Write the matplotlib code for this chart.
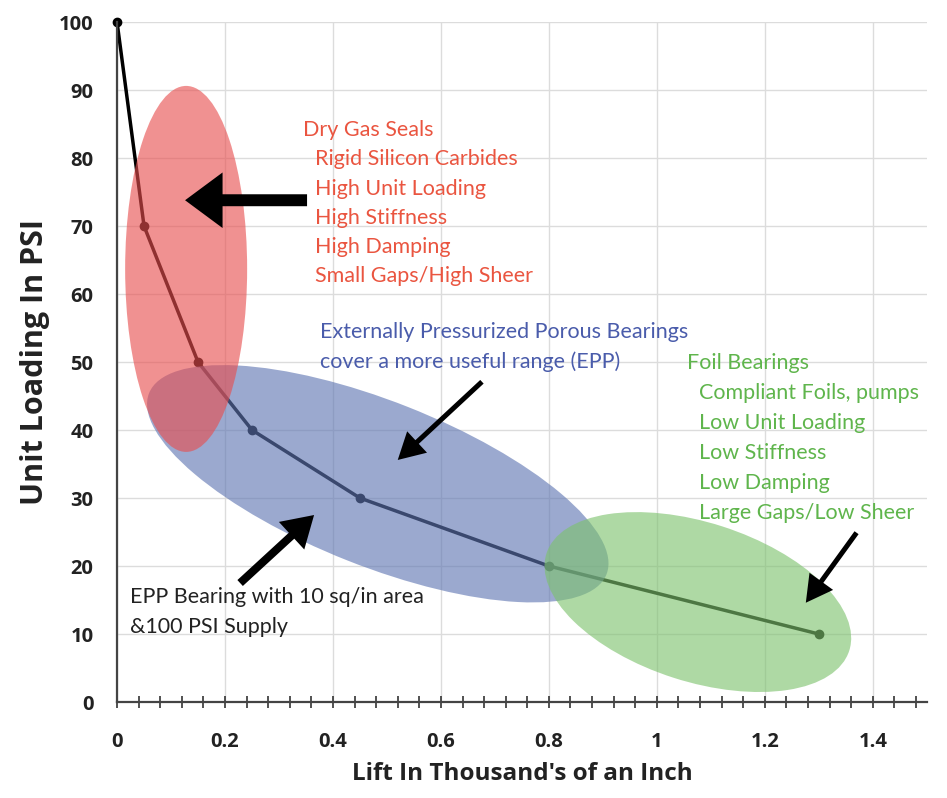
import matplotlib
matplotlib.use("Agg")
import matplotlib.pyplot as plt
from matplotlib.patches import Ellipse
from matplotlib.transforms import ScaledTranslation
from matplotlib.ticker import MultipleLocator

# data
lift = [0, 0.05, 0.15, 0.25, 0.45, 0.8, 1.3]
loading = [100, 70, 50, 40, 30, 20, 10]

x_ticks = [0, 0.2, 0.4, 0.6, 0.8, 1, 1.2, 1.4]
x_tick_labels = ["0", "0.2", "0.4", "0.6", "0.8", "1", "1.2", "1.4"]
y_ticks = list(range(0, 101, 10))

red_title = "Dry Gas Seals"
red_lines = ["Rigid Silicon Carbides", "High Unit Loading", "High Stiffness",
             "High Damping", "Small Gaps/High Sheer"]
blue_lines = ["Externally Pressurized Porous Bearings",
              "cover a more useful range (EPP)"]
green_title = "Foil Bearings"
green_lines = ["Compliant Foils, pumps", "Low Unit Loading", "Low Stiffness",
               "Low Damping", "Large Gaps/Low Sheer"]
epp_lines = ["EPP Bearing with 10 sq/in area", "&100 PSI Supply"]

RED = "#e84e4e"
BLUE = "#5e75b2"
GREEN = "#7dc26d"
RED_TXT = "#ea5540"
BLUE_TXT = "#4a5cab"
GREEN_TXT = "#5fb54c"

fig = plt.figure(figsize=(9.47, 7.98), dpi=100)
ax = fig.add_axes([0.1236, 0.1203, 0.855, 0.852])

ax.plot(lift, loading, color="black", lw=2.5, marker="o", ms=6,
        zorder=2, clip_on=False)


def blob(cx, cy, w, h, ang, color):
    # ellipse sized in inches, centred on a data point
    tr = fig.dpi_scale_trans + ScaledTranslation(cx, cy, ax.transData)
    e = Ellipse((0, 0), w, h, angle=ang, transform=tr, facecolor=color,
                edgecolor="none", alpha=0.62, zorder=3)
    ax.add_patch(e)


blob(0.483, 32.1, 4.92, 1.65, -21.6, BLUE)
blob(1.076, 14.7, 3.18, 1.59, -17.8, GREEN)
blob(0.128, 63.7, 1.22, 3.66, 0, RED)

# arrows: tail, tip, (tail width, head width, head length) in points
arrows = [((0.352, 73.8), (0.126, 73.8), (8.6, 40, 27)),
          ((0.676, 47.1), (0.520, 35.6), (3.6, 21, 19)),
          ((0.228, 17.5), (0.365, 27.5), (5.8, 27, 22)),
          ((1.370, 24.9), (1.276, 14.6), (3.6, 21, 19))]
for tail, tip, (tw, hw, hl) in arrows:
    ax.annotate("", xy=tip, xytext=tail,
                arrowprops=dict(arrowstyle="simple,head_length=%g,head_width=%g,tail_width=%g" % (hl, hw, tw),
                                fc="black", ec="none", lw=0,
                                shrinkA=0, shrinkB=0, mutation_scale=1),
                zorder=4)

font = "Lato"
fs = 15.5
ax.text(0.344, 84.1, red_title, color=RED_TXT, fontsize=fs, family=font,
        va="center", zorder=5)
for i, s in enumerate(red_lines):
    ax.text(0.366, 79.8 - i * 4.3, s, color=RED_TXT, fontsize=fs,
            family=font, va="center", zorder=5)

for i, s in enumerate(blue_lines):
    ax.text(0.376, 54.4 - i * 4.4, s, color=BLUE_TXT, fontsize=fs,
            family=font, va="center", zorder=5)

ax.text(1.056, 49.9, green_title, color=GREEN_TXT, fontsize=fs,
        family=font, va="center", zorder=5)
for i, s in enumerate(green_lines):
    ax.text(1.078, 45.4 - i * 4.4, s, color=GREEN_TXT, fontsize=fs,
            family=font, va="center", zorder=5)

for i, s in enumerate(epp_lines):
    ax.text(0.024, 15.4 - i * 4.4, s, color="#222222", fontsize=fs,
            family=font, va="center", zorder=5)

ax.set_xlim(0, 1.5)
ax.set_ylim(0, 100)
ax.set_xticks(x_ticks)
ax.set_xticklabels(x_tick_labels)
ax.set_yticks(y_ticks)
ax.xaxis.set_minor_locator(MultipleLocator(0.04))
ax.tick_params(axis="x", which="both", direction="inout", length=9,
               width=1.2, color="#333333", pad=17)
ax.tick_params(axis="y", length=0, pad=17)
for lab in ax.get_xticklabels() + ax.get_yticklabels():
    lab.set_fontfamily("Open Sans")
    lab.set_fontweight("bold")
    lab.set_fontsize(14.5)
    lab.set_color("#222222")

ax.grid(True, which="major", color="#dcdcdc", lw=1)
ax.set_axisbelow(True)
for side in ["top", "right"]:
    ax.spines[side].set_visible(False)
for side in ["left", "bottom"]:
    ax.spines[side].set_color("#444444")
    ax.spines[side].set_linewidth(1.6)

ax.set_xlabel("Lift In Thousand's of an Inch", fontsize=17.5, fontweight="bold",
              family="Open Sans", color="#222222", labelpad=7)
ax.set_ylabel("Unit Loading In PSI", fontsize=22, fontweight="bold",
              family="Open Sans", color="#222222", labelpad=6)

fig.savefig("out.png", dpi=100)
